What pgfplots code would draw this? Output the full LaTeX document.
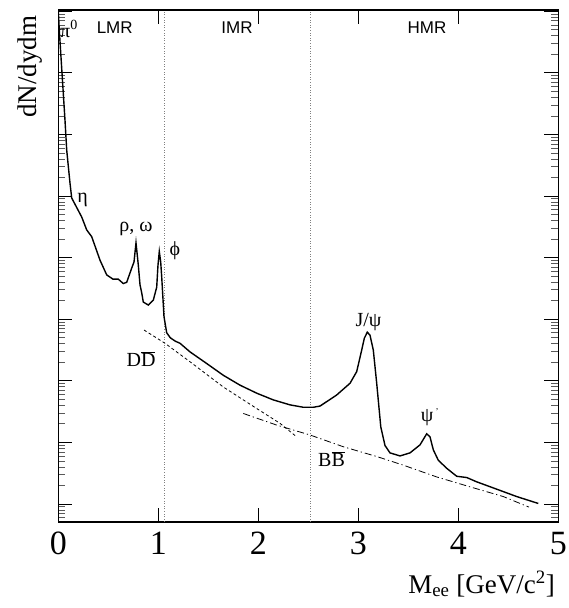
\documentclass[border=0pt]{standalone}
\usepackage{pgfplots}
\pgfplotsset{compat=1.18}
\usepackage{fontspec}
\setmainfont{Liberation Serif}
\newfontfamily\sansf{Liberation Sans}
\newcommand{\ann}{\fontsize{20}{20}\selectfont}
\newcommand{\reg}{\sansf\fontsize{17}{17}\selectfont}
\begin{document}
\begin{tikzpicture}
\begin{axis}[
  scale only axis, width=500pt, height=512pt,
  xmin=0, xmax=5, ymode=log, ymin=0.51, ymax=1.05e8,
  xtick={0,1,2,3,4,5},
  ytick={0.1,1,10,100,1000,10000,100000,1000000,10000000,100000000},
  yticklabel=\empty,
  /pgf/number format/assume math mode=true,
  xticklabel style={font=\fontsize{34}{34}\selectfont, inner sep=0pt, anchor=north, yshift=-9.7pt},
  major tick length=14pt, minor tick length=7pt,
  every tick/.style={black, line width=0.8pt},
  minor tick style={black!65, line width=0.8pt},
  axis line style={line width=1.2pt},
  clip=true,
]
\coordinate (bl) at (rel axis cs:0,0);
% region separators
\addplot[gray, dotted, line width=0.6pt] coordinates {(1.06,0.51) (1.06,1.05e8)};
\addplot[gray, dotted, line width=0.6pt] coordinates {(2.52,0.51) (2.52,1.05e8)};
% total dielectron yield
\addplot[black, line width=1.4pt] coordinates {
(0.000,1.0e8) (0.010,4.9e7) (0.067,1.7e6) (0.084,5.6e5) (0.117,1.62e5) (0.134,9.3e4)
(0.234,4.57e4) (0.284,2.82e4) (0.334,2.19e4) (0.417,9.1e3) (0.484,5.25e3) (0.547,4.47e3)
(0.600,4.47e3) (0.650,3.8e3) (0.684,3.98e3) (0.734,6.76e3) (0.757,8.5e3) (0.777,1.74e4)
(0.800,7.6e3) (0.817,3.63e3) (0.834,2.69e3) (0.850,1.9e3) (0.900,1.7e3) (0.950,2.04e3)
(0.984,3.31e3) (0.997,7.6e3) (1.010,1.26e4) (1.024,8.5e3) (1.034,4.9e3) (1.057,1.1e3)
(1.084,603) (1.120,500) (1.170,440) (1.217,407) (1.317,295) (1.484,191) (1.650,123) (1.817,85)
(1.984,63) (2.150,49) (2.317,40.7) (2.450,37.2) (2.550,37.2) (2.617,38.9) (2.784,58.9)
(2.917,91.2) (2.984,141) (3.034,316) (3.060,490) (3.090,617) (3.117,550) (3.150,316)
(3.184,91.2) (3.225,17.8) (3.267,8.9) (3.317,6.76) (3.417,6.03) (3.517,6.76) (3.617,9.12)
(3.684,13.8) (3.717,12.3) (3.750,7.59) (3.800,5.13) (3.884,3.8) (3.984,2.82) (4.084,2.69)
(4.184,2.29) (4.384,1.74) (4.584,1.32) (4.800,1.02)
};
% open charm
\addplot[black, line width=0.8pt, dash pattern=on 3pt off 2.5pt] coordinates {
(0.857,668) (1.067,407) (1.317,204) (1.650,79.4) (1.984,35.5) (2.217,20.4) (2.384,12.3)
};
% open beauty
\addplot[black, line width=0.8pt, dash pattern=on 7pt off 3pt on 1.2pt off 3pt] coordinates {
(1.85,29.5) (2.184,19.1) (2.517,13.2) (2.85,8.5) (3.184,5.9) (3.45,4.27) (3.784,2.75)
(4.117,1.9) (4.45,1.32) (4.707,0.89)
};
\node[font=\reg] at (axis cs:0.564,5.37e7) {LMR};
\node[font=\reg] at (axis cs:1.787,5.37e7) {IMR};
\node[font=\reg] at (axis cs:3.687,5.37e7) {HMR};
\node[font=\ann] at (axis cs:0.107,5.13e7) {π\textsuperscript{0}};
\node[font=\ann] at (axis cs:0.242,8.6e4) {η};
\node[font=\ann] at (axis cs:0.777,2.88e4) {ρ, ω};
\node[font=\ann] at (axis cs:1.167,1.32e4) {ϕ};
\node[font=\ann] at (axis cs:0.827,224) {D$\overline{\mbox{D}}$};
\node[font=\ann] at (axis cs:3.102,891) {J/ψ};
\node[font=\ann] at (axis cs:3.717,25.7) {ψ\textsuperscript{\,\fontsize{9}{9}\selectfont'}};
\node[font=\ann] at (axis cs:2.732,5.37) {B$\overline{\mbox{B}}$};
\end{axis}
\node[font=\fontsize{27}{27}\selectfont, anchor=base east] at ([xshift=500pt, yshift=-71pt]bl) {M\textsubscript{ee} [GeV/c\textsuperscript{2}]};
\node[font=\fontsize{27}{27}\selectfont, rotate=90, anchor=base east] at ([xshift=-22pt, yshift=510pt]bl) {dN/dydm};
\pgfresetboundingbox
\path (bl) ++(-58.3pt,-86pt) rectangle ++(568pt,608pt);
\end{tikzpicture}
\end{document}
